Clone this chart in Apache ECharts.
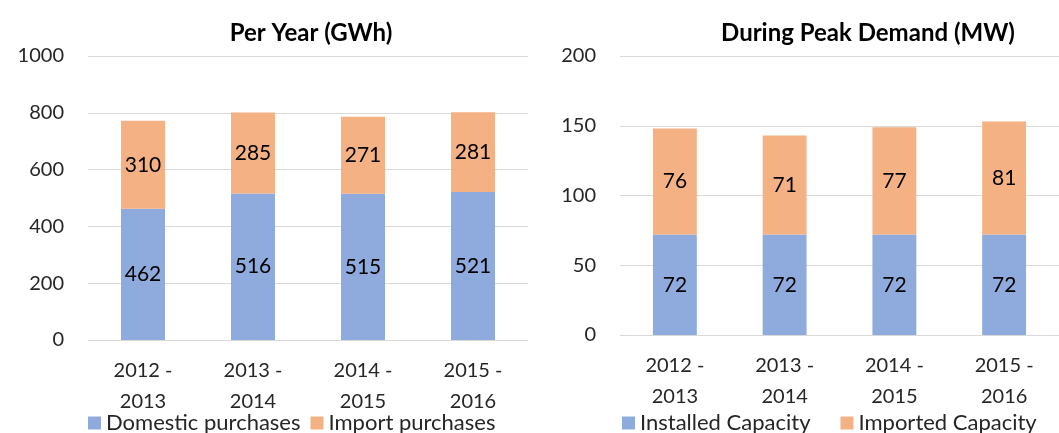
<!DOCTYPE html>
<html>
<head>
<meta charset="utf-8">
<script src="https://cdn.jsdelivr.net/npm/echarts@6/dist/echarts.min.js"></script>
<style>
  html, body { margin: 0; padding: 0; background: #fff; }
  #main { width: 1059px; height: 433px; }
</style>
</head>
<body>
<div id="main"></div>
<script>
// categories (shared by both panels)
var years = ['2012 -\n2013', '2013 -\n2014', '2014 -\n2015', '2015 -\n2016']
// per year, GWh
var domesticPurchases = [462, 516, 515, 521]
var importPurchases = [310, 285, 271, 281]
// during peak demand, MW
var installedCapacity = [72, 72, 72, 72]
var importedCapacity = [76, 71, 77, 81]

var FONT = 'Lato'
var BLUE = '#8faadc'
var ORANGE = '#f4b183'
var TEXT = '#262626'

function xAxisFor (idx) {
  return {
    type: 'category',
    gridIndex: idx,
    data: years,
    axisLine: { lineStyle: { color: '#d9d9d9' } },
    axisTick: { show: false },
    axisLabel: { color: TEXT, fontFamily: FONT, fontSize: 20, lineHeight: 31, margin: 15 }
  }
}
function yAxisFor (idx, max, interval) {
  return {
    type: 'value',
    gridIndex: idx,
    min: 0,
    max: max,
    interval: interval,
    axisLine: { show: false },
    axisTick: { show: false },
    splitLine: { lineStyle: { color: '#d9d9d9' } },
    axisLabel: {
      color: TEXT, fontFamily: FONT, fontSize: 20, margin: 24,
      formatter: function (v) { return String(v) }
    }
  }
}
function barSeries (name, data, axis, color) {
  return {
    name: name,
    type: 'bar',
    stack: 'stack' + axis,
    xAxisIndex: axis,
    yAxisIndex: axis,
    data: data,
    barWidth: '40%',
    itemStyle: { color: color },
    label: { show: true, position: 'inside', color: '#000', fontFamily: FONT, fontSize: 21 }
  }
}

var chart = echarts.init(document.getElementById('main'))
chart.setOption({
  animation: false,
  title: [
    { text: 'Per Year (GWh)', left: 306, top: 16, textAlign: 'center',
      textStyle: { fontFamily: FONT, fontSize: 24, fontWeight: 'bold', color: '#000' } },
    { text: 'During Peak Demand (MW)', left: 863, top: 16, textAlign: 'center',
      textStyle: { fontFamily: FONT, fontSize: 24, fontWeight: 'bold', color: '#000' } }
  ],
  legend: [
    { data: ['Domestic purchases', 'Import purchases'], left: 83, top: 407,
      icon: 'rect', itemWidth: 13, itemHeight: 13, itemGap: 10,
      textStyle: { fontFamily: FONT, fontSize: 22, color: TEXT } },
    { data: ['Installed Capacity', 'Imported Capacity'], left: 617, top: 407,
      icon: 'rect', itemWidth: 13, itemHeight: 13, itemGap: 30,
      textStyle: { fontFamily: FONT, fontSize: 22, color: TEXT } }
  ],
  grid: [
    { left: 88, top: 56, width: 440, height: 284 },
    { left: 620, top: 56, width: 447, height: 279 }
  ],
  xAxis: [xAxisFor(0), xAxisFor(1)],
  yAxis: [yAxisFor(0, 1000, 200), yAxisFor(1, 200, 50)],
  series: [
    barSeries('Domestic purchases', domesticPurchases, 0, BLUE),
    barSeries('Import purchases', importPurchases, 0, ORANGE),
    barSeries('Installed Capacity', installedCapacity, 1, BLUE),
    barSeries('Imported Capacity', importedCapacity, 1, ORANGE)
  ]
})
</script>
</body>
</html>
